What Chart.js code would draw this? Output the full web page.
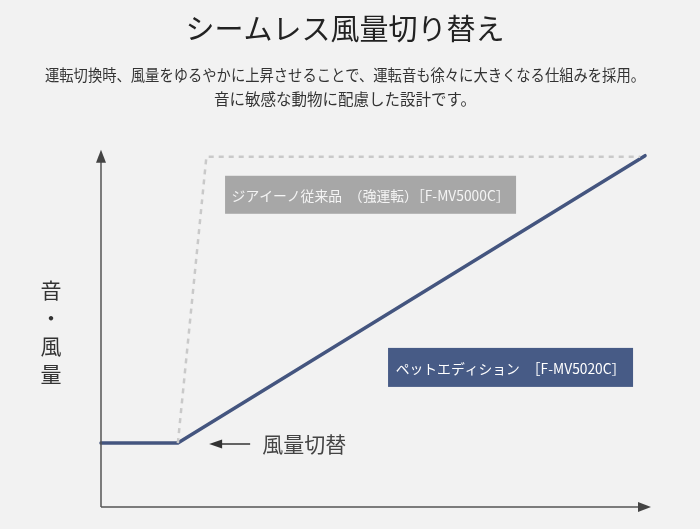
<!DOCTYPE html>
<html lang="ja">
<head>
<meta charset="utf-8">
<script src="https://cdn.jsdelivr.net/npm/chart.js@4.4.1/dist/chart.umd.min.js"></script>
<style>
  html, body { margin: 0; padding: 0; background: #f2f2f2; }
  #wrap { width: 700px; height: 529px; }
</style>
</head>
<body>
<div id="wrap"><canvas id="myChart" width="700" height="529"></canvas></div>
<script>
// conceptual diagram: x = time, y = sound / airflow (0-100)
const petX = [0, 14, 99.1]
const petY = [18, 18, 98.9]
const oldX = [14, 19.2, 98.2]
const oldY = [18, 98.6, 98.6]
const seriesNames = ['ペットエディション　［F-MV5020C］', 'ジアイーノ従来品　（強運転）［F-MV5000C］']
const titleText = 'シームレス風量切り替え'
const subtitleLines = [
  '運転切換時、風量をゆるやかに上昇させることで、運転音も徐々に大きくなる仕組みを採用。',
  '音に敏感な動物に配慮した設計です。'
]
const axisLabel = ['音', '・', '風', '量']
const switchLabel = '風量切替'

const FONT = "'Noto Sans CJK JP', 'Noto Sans', sans-serif"

const toPoints = (xs, ys) => xs.map((x, i) => ({ x: x, y: ys[i] }))

// axes with arrows, name boxes and the small labels
const decor = {
  id: 'decor',
  afterDatasetsDraw (chart) {
    const { ctx, chartArea: a, scales } = chart
    const sx = scales.x, sy = scales.y
    const x0 = sx.getPixelForValue(0)
    const x1 = sx.getPixelForValue(100)
    const y0 = sy.getPixelForValue(0)
    ctx.save()

    // axes
    ctx.strokeStyle = '#555'
    ctx.fillStyle = '#444'
    ctx.lineWidth = 1.5
    ctx.beginPath()
    ctx.moveTo(x0, y0)
    ctx.lineTo(x0, a.top + 8)
    ctx.moveTo(x0, y0)
    ctx.lineTo(x1 - 8, y0)
    ctx.stroke()
    ctx.beginPath()
    ctx.moveTo(x0, a.top - 2)
    ctx.lineTo(x0 - 5, a.top + 11)
    ctx.lineTo(x0 + 5, a.top + 11)
    ctx.closePath()
    ctx.fill()
    ctx.beginPath()
    ctx.moveTo(x1 + 1, y0)
    ctx.lineTo(x1 - 12, y0 - 5)
    ctx.lineTo(x1 - 12, y0 + 5)
    ctx.closePath()
    ctx.fill()

    // name boxes
    const boxes = [
      { text: seriesNames[1], cx: sx.getPixelForValue(49.1), cy: sy.getPixelForValue(87.9), w: 291, h: 38, bg: '#a7a7a7', fg: '#f4f4f4' },
      { text: seriesNames[0], cx: sx.getPixelForValue(74.6), cy: sy.getPixelForValue(39.3), w: 245, h: 39, bg: '#475b86', fg: '#ffffff' }
    ]
    ctx.font = '13.8px ' + FONT
    ctx.textAlign = 'center'
    ctx.textBaseline = 'middle'
    boxes.forEach(b => {
      ctx.fillStyle = b.bg
      ctx.fillRect(b.cx - b.w / 2, b.cy - b.h / 2, b.w, b.h)
      ctx.fillStyle = b.fg
      ctx.fillText(b.text, b.cx, b.cy + 1)
    })

    // y axis label, stacked vertically
    ctx.fillStyle = '#333'
    ctx.font = '21px ' + FONT
    const mid = (a.top + y0) / 2 + 3
    axisLabel.forEach((c, i) => {
      ctx.fillText(c, x0 - 50, mid + (i - 1.5) * 28)
    })

    // switch marker
    const ty = sy.getPixelForValue(petY[1]) + 1
    const tx = sx.getPixelForValue(19.7)
    ctx.strokeStyle = '#333'
    ctx.fillStyle = '#333'
    ctx.lineWidth = 1.5
    ctx.beginPath()
    ctx.moveTo(tx + 8, ty)
    ctx.lineTo(tx + 41, ty)
    ctx.stroke()
    ctx.beginPath()
    ctx.moveTo(tx, ty)
    ctx.lineTo(tx + 13, ty - 4.5)
    ctx.lineTo(tx + 13, ty + 4.5)
    ctx.closePath()
    ctx.fill()
    ctx.fillStyle = '#444'
    ctx.textAlign = 'left'
    ctx.fillText(switchLabel, tx + 53, ty)

    ctx.restore()
  }
}

const ctx = document.getElementById('myChart')
// eslint-disable-next-line no-unused-vars
const myChart = new Chart(ctx, {
  type: 'scatter',
  data: {
    datasets: [{
      label: seriesNames[1],
      data: toPoints(oldX, oldY),
      showLine: true,
      borderColor: '#c9c9c9',
      borderWidth: 2.5,
      borderDash: [5, 5],
      pointRadius: 0,
      tension: 0,
      clip: false
    }, {
      label: seriesNames[0],
      data: toPoints(petX, petY),
      showLine: true,
      borderColor: '#44557f',
      borderWidth: 3.5,
      pointRadius: 0,
      tension: 0,
      clip: false,
      borderCapStyle: 'round'
    }]
  },
  options: {
    responsive: false,
    animation: false,
    layout: {
      // title sits a little left of the page centre, as in the original
      padding: { left: 45, right: 55, bottom: 22, top: 0 }
    },
    scales: {
      // x = 0 at 101px, x = 100 at 650px
      x: { type: 'linear', min: -10.2, max: 99.09, display: false },
      y: { type: 'linear', min: 0, max: 100, display: false }
    },
    plugins: {
      legend: { display: false },
      tooltip: { enabled: false },
      title: {
        display: true,
        text: titleText,
        color: '#222',
        font: { family: FONT, size: 29, weight: 'normal', lineHeight: 1.2 },
        padding: { top: 12, bottom: 16 }
      },
      subtitle: {
        display: true,
        text: subtitleLines,
        color: '#333',
        font: { family: FONT, size: 15.5, weight: 'normal', lineHeight: '24px' },
        padding: { top: 0, bottom: 41 }
      }
    }
  },
  plugins: [decor]
})
</script>
</body>
</html>
